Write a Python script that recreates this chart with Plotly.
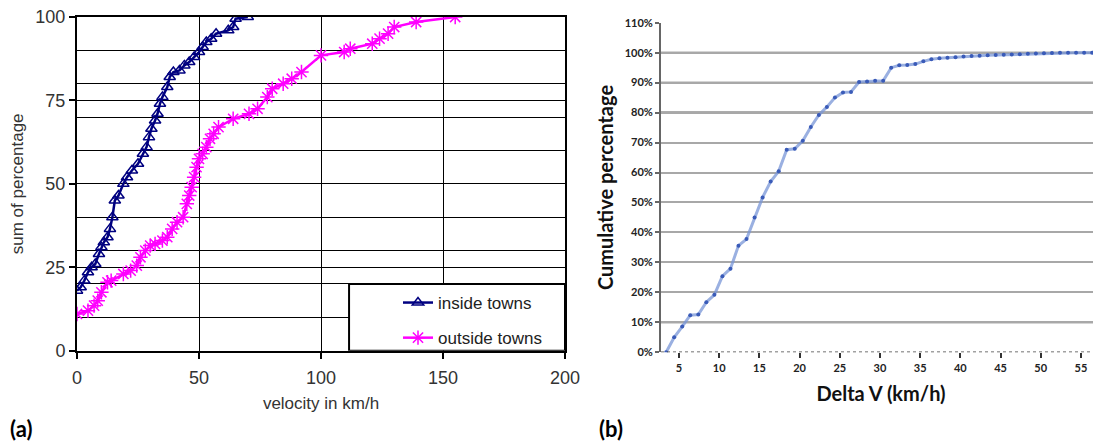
import plotly.graph_objects as go

# ---------- panel (a) data ----------
inside_v = [0, 1.5, 3, 4.5, 6, 7.5, 9, 10, 11, 12.5, 13.5, 14.5, 15.5, 17, 19, 20.5, 22.5, 25, 27,
            28.5, 29.5, 30.5, 32, 33, 34, 35, 37, 38, 39.5, 42, 44, 46, 48, 50, 51.5, 53, 55, 57,
            62, 64, 65, 70]
inside_p = [18, 19, 21, 23.5, 25, 26, 29, 31, 32.5, 34, 36.5, 40, 45, 46.5, 50, 52, 54, 56, 59,
            61, 64, 66.5, 69, 71, 74, 76, 79, 82, 83.5, 84, 85.5, 86.5, 88, 89.5, 91, 92.5, 93.5, 95,
            96, 97, 99.5, 100]
outside_v = [0, 4.5, 7, 8.5, 10, 12.5, 14, 19, 22, 24.5, 26, 28, 30, 32, 35, 37, 39, 41, 43.5,
             45, 46, 47, 48, 49, 50, 51.5, 53, 54.5, 56, 58, 64, 70.5, 74, 78, 80, 84.5, 88, 92,
             100, 109.5, 112, 121, 124, 127.5, 130, 139, 155]
outside_p = [11, 12, 13.5, 15, 17.5, 20.5, 21, 23, 24, 25.5, 28, 30, 31.5, 32, 33, 34, 36.5, 38.5, 40,
             44, 46.5, 49, 52, 55, 57.5, 59, 61, 63.5, 65, 67, 69.5, 71, 72.5, 76, 78.5, 80, 81.5, 83.5,
             88.5, 89.5, 90.5, 92, 93.5, 95, 97, 98.5, 100]
a_xticks = [0, 50, 100, 150, 200]
a_yticks = [0, 25, 50, 75, 100]
a_minor_y = [10, 20, 30, 40, 60, 70, 80, 90]

# ---------- panel (b) data ----------
delta_v = [3.4, 4.4, 5.4, 6.4, 7.4, 8.4, 9.4, 10.4, 11.4, 12.4, 13.4, 14.4, 15.4, 16.4, 17.4,
           18.4, 19.4, 20.4, 21.4, 22.4, 23.4, 24.4, 25.4, 26.4, 27.4, 28.4, 29.4, 30.4, 31.4,
           32.4, 33.4, 34.4, 35.4, 36.4, 37.4, 38.4, 39.4, 40.4, 41.4, 42.4, 43.4, 44.4, 45.4,
           46.4, 47.4, 48.4, 49.4, 50.4, 51.4, 52.4, 53.4, 54.4, 55.4, 56.4, 57.4]
cum_pct = [0, 5.0, 8.6, 12.4, 12.6, 16.7, 19.2, 25.4, 27.9, 35.6, 37.8, 45.0, 51.7, 57.0, 60.4,
           67.6, 67.9, 70.6, 75.2, 79.2, 81.9, 85.0, 86.7, 86.9, 90.2, 90.4, 90.6, 90.6, 95.0,
           95.8, 95.9, 96.2, 97.1, 97.8, 98.1, 98.3, 98.5, 98.7, 98.9, 99.0, 99.1, 99.2, 99.3,
           99.4, 99.5, 99.6, 99.7, 99.8, 99.9, 100, 100, 100, 100, 100, 100]
b_xticks = [5, 10, 15, 20, 25, 30, 35, 40, 45, 50, 55]
b_yticks = [0, 10, 20, 30, 40, 50, 60, 70, 80, 90, 100, 110]
b_ytext = [f"{v}%" for v in b_yticks]
b_dark_grid = [10, 80, 90, 100]

# page is drawn with an 8px body margin: work in page pixels and convert
OFF = 8
W, H = 1101 - OFF, 444 - OFF


def px(p):
    return (p - OFF) / W


def py(p):
    return 1 - (p - OFF) / H


AR = "Liberation Sans"
CB = "Lato"

fig = go.Figure()
fig.add_trace(go.Scatter(
    x=inside_v, y=inside_p, name="inside towns", mode="lines+markers", legendgroup="g1",
    line=dict(color="#000080", width=2.5),
    marker=dict(symbol="triangle-up-open", size=10, color="#000080", line=dict(width=1.5, color="#000080")),
    xaxis="x", yaxis="y"))
fig.add_trace(go.Scatter(
    x=outside_v, y=outside_p, name="outside towns", mode="lines+markers", legendgroup="g2",
    line=dict(color="#ff00ff", width=2.5),
    marker=dict(symbol="asterisk-open", size=12, color="#ff00ff", line=dict(width=1.5, color="#ff00ff")),
    xaxis="x", yaxis="y"))
fig.add_trace(go.Scatter(
    x=delta_v, y=cum_pct, mode="lines+markers", showlegend=False,
    line=dict(color="rgba(120,150,215,0.75)", width=3),
    marker=dict(size=4, color="#3a5bb8"),
    xaxis="x2", yaxis="y2"))

shapes = []
# legend box in panel (a)
shapes.append(dict(type="rect", xref="x", yref="y", x0=111.5, x1=200, y0=0, y1=20,
                   line=dict(color="black", width=2), fillcolor="white", layer="above"))
# darker grid lines in panel (b)
for v in b_dark_grid:
    shapes.append(dict(type="line", xref="x2 domain", yref="y2", x0=0, x1=1, y0=v, y1=v,
                       line=dict(color="#5a5a5a", width=2), layer="below"))
# dashed bottom axis of panel (b)
shapes.append(dict(type="line", xref="x2 domain", yref="y2", x0=0, x1=1, y0=0, y1=0,
                   line=dict(color="#444", width=1.5, dash="3px,3px"), layer="above"))

fig.update_layout(
    width=W, height=H, margin=dict(l=0, r=0, t=0, b=0),
    paper_bgcolor="white", plot_bgcolor="white",
    showlegend=True,
    legend=dict(x=px(398), y=py(285), xanchor="left", yanchor="top",
                bgcolor="rgba(0,0,0,0)", borderwidth=0, tracegroupgap=10,
                font=dict(family=AR, size=17, color="#222")),
    xaxis=dict(domain=[px(77), px(565)], range=[0, 200], tickvals=a_xticks,
               showgrid=True, gridcolor="black", gridwidth=1.4, zeroline=False,
               showline=True, linecolor="black", linewidth=2, mirror=True,
               ticks="outside", ticklen=6, tickcolor="black", tickwidth=1.5, ticklabelstandoff=4,
               ticklabeloverflow="allow",
               tickfont=dict(family=AR, size=18, color="#333"), automargin=False,
               title=dict(text="velocity in km/h", font=dict(family=AR, size=17, color="#333"), standoff=10),
               anchor="y"),
    yaxis=dict(domain=[py(350.7), py(17)], range=[0, 100], tickvals=a_yticks,
               showgrid=True, gridcolor="black", gridwidth=1.4, zeroline=False,
               minor=dict(tickvals=a_minor_y, showgrid=True, gridcolor="black", gridwidth=1.4, ticks=""),
               showline=True, linecolor="black", linewidth=2, mirror=True,
               ticks="outside", ticklen=6, tickcolor="black", tickwidth=1.5,
               ticklabeloverflow="allow",
               tickfont=dict(family=AR, size=18, color="#333"), automargin=False,
               title=dict(text="sum of percentage", font=dict(family=AR, size=17, color="#333"), standoff=8),
               anchor="x"),
    xaxis2=dict(domain=[px(661), 1], range=[2.76, 57.5], tickvals=b_xticks,
                showgrid=False, zeroline=False, showline=False,
                ticks="outside", ticklen=5, tickcolor="#333", tickwidth=1.5,
                ticklabeloverflow="allow",
                tickfont=dict(family=CB, size=11, color="#222", weight="bold"), automargin=False,
                title=dict(text="Delta V (km/h)", font=dict(family=CB, size=20, color="#111", weight="bold"), standoff=14),
                anchor="y2"),
    yaxis2=dict(domain=[py(352.3), py(22.7)], range=[0, 110], tickvals=b_yticks, ticktext=b_ytext,
                showgrid=True, gridcolor="#a8a8a8", gridwidth=2, zeroline=False,
                showline=True, linecolor="#666", linewidth=2,
                ticks="outside", ticklen=4, tickcolor="#666", tickwidth=1.5,
                ticklabeloverflow="allow",
                tickfont=dict(family=CB, size=11, color="#222", weight="bold"), automargin=False,
                title=dict(text="Cumulative percentage", font=dict(family=CB, size=20, color="#111", weight="bold"), standoff=6),
                anchor="x2"),
    shapes=shapes,
    annotations=[
        dict(text="(a)", x=px(21), y=py(428), xref="paper", yref="paper", showarrow=False,
             xanchor="center", yanchor="middle",
             font=dict(family=CB, size=22, color="black", weight="bold")),
        dict(text="(b)", x=px(611), y=py(428), xref="paper", yref="paper", showarrow=False,
             xanchor="center", yanchor="middle",
             font=dict(family=CB, size=22, color="black", weight="bold")),
    ],
)

fig.write_html("out.html")
